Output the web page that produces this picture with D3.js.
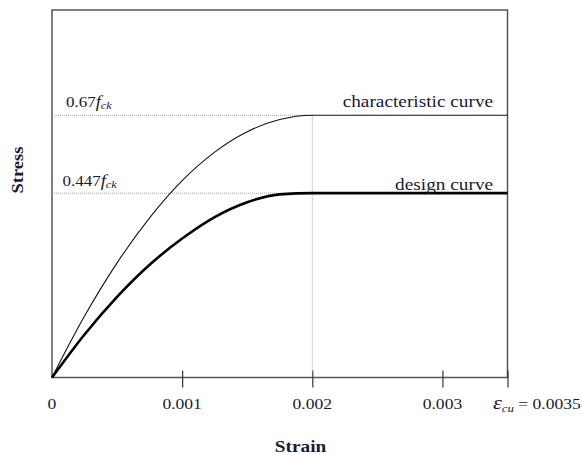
<!DOCTYPE html>
<html>
<head>
<meta charset="utf-8">
<script src="https://cdn.jsdelivr.net/npm/d3@7"></script>
<style>
  body { margin: 0; background: #fff; }
  text { font-family: "Liberation Serif", "Times New Roman", serif; fill: #1a1a33; }
</style>
</head>
<body>
<div class="vis-chart"></div>
<script>
// strain values (x) and stress as fraction of fck (y)
const strain = [0, 0.00025, 0.0005, 0.00075, 0.001, 0.00125, 0.0015, 0.00175, 0.002, 0.0035];
const characteristic = [0, 0.157, 0.293, 0.408, 0.503, 0.576, 0.628, 0.659, 0.67, 0.67];
const design = [0, 0.110, 0.206, 0.288, 0.355, 0.410, 0.448, 0.468, 0.471, 0.471];
const xTicks = [0, 0.001, 0.002, 0.003, 0.0035];
const xTickLabels = ["0", "0.001", "0.002", "0.003", ""];
const epsCu = 0.0035;
const yieldStrain = 0.002;

const margin = {top: 10, right: 74.5, bottom: 77.5, left: 52};
const W = 582, H = 455;
const width = W - margin.left - margin.right;
const height = H - margin.top - margin.bottom;
const SX = 1.17; // the source text is a bit wider than Liberation Serif

const svg = d3.select('.vis-chart').append('svg')
    .attr('width', W)
    .attr('height', H);
const g = svg.append('g')
    .attr('transform', 'translate(' + margin.left + ',' + margin.top + ')');

const x = d3.scaleLinear().domain([0, 0.0035]).range([0, width]);
const y = d3.scaleLinear().domain([0, 0.939]).range([height, 0]);

// text placed at (px,py), stretched horizontally
function label(parent, px, py, anchor, size) {
    return parent.append('g')
        .attr('transform', 'translate(' + px + ',' + py + ') scale(' + SX + ',1)')
        .append('text')
        .attr('text-anchor', anchor)
        .style('font-size', size + 'px');
}

// frame
g.append('rect')
    .attr('x', 0).attr('y', 0)
    .attr('width', width).attr('height', height)
    .attr('fill', 'none')
    .attr('stroke', '#555')
    .attr('stroke-width', 1.5);

// x axis ticks (crossing the axis line)
const xAxis = d3.axisBottom(x).tickValues(xTicks.slice(1)).tickSize(10).tickFormat('');
g.append('g')
    .attr('transform', 'translate(0,' + height + ')')
    .call(xAxis)
    .call(a => a.select('.domain').remove())
    .call(a => a.selectAll('.tick line').attr('y1', -7).attr('stroke', '#333').attr('stroke-width', 1.2));

xTicks.forEach((d, i) => {
    label(g, x(d), height + 31.5, 'middle', 15).text(xTickLabels[i]);
});

// eps_cu label
const ecu = label(g, x(epsCu) - 14.5, height + 31.5, 'start', 15);
ecu.append('tspan').text('ε').style('font-style', 'italic').style('font-size', '19px');
ecu.append('tspan').text('cu').style('font-style', 'italic').style('font-size', '11px').attr('dy', 3);
ecu.append('tspan').text(' = 0.0035').attr('dy', -3);

// dotted guide lines
const guides = [characteristic[characteristic.length - 1], design[design.length - 1]];
g.selectAll('.guide')
    .data(guides)
    .enter().append('line')
    .attr('x1', 0).attr('x2', x(yieldStrain))
    .attr('y1', d => y(d)).attr('y2', d => y(d))
    .attr('stroke', '#888')
    .attr('stroke-width', 0.8)
    .attr('stroke-dasharray', '1,1');
g.append('line')
    .attr('x1', x(yieldStrain)).attr('x2', x(yieldStrain))
    .attr('y1', y(guides[0])).attr('y2', height)
    .attr('stroke', '#888')
    .attr('stroke-width', 0.8)
    .attr('stroke-dasharray', '1,1');

// curves
const line = d3.line()
    .x(d => x(d[0]))
    .y(d => y(d[1]))
    .curve(d3.curveMonotoneX);

g.append('path')
    .datum(strain.map((s, i) => [s, characteristic[i]]))
    .attr('d', line)
    .attr('fill', 'none')
    .attr('stroke', '#111')
    .attr('stroke-width', 1.1);

g.append('path')
    .datum(strain.map((s, i) => [s, design[i]]))
    .attr('d', line)
    .attr('fill', 'none')
    .attr('stroke', '#000')
    .attr('stroke-width', 2.6);

// labels on the stress levels
function fckLabel(px, py, num) {
    const t = label(g, px, py, 'start', 14.5);
    t.append('tspan').text(num);
    t.append('tspan').text('f').style('font-style', 'italic').style('font-size', '16px');
    t.append('tspan').text('ck').style('font-style', 'italic').style('font-size', '10.5px').attr('dy', 2);
}
fckLabel(14, y(guides[0]) - 8, '0.67');
fckLabel(10.5, y(guides[1]) - 7.5, '0.447');

label(g, x(0.00342) - 4, y(guides[0]) - 8.5, 'end', 16.5).text('characteristic curve');
label(g, x(0.00342) - 4, y(guides[1]) - 3.5, 'end', 16.5).text('design curve');

// axis titles
label(svg, 300.5, 451.5, 'middle', 16.5)
    .style('font-weight', 'bold')
    .text('Strain');

svg.append('text')
    .attr('transform', 'translate(22.5,170) rotate(-90) scale(1.12,1)')
    .attr('text-anchor', 'middle')
    .style('font-size', '16.5px')
    .style('font-weight', 'bold')
    .text('Stress');
</script>
</body>
</html>
